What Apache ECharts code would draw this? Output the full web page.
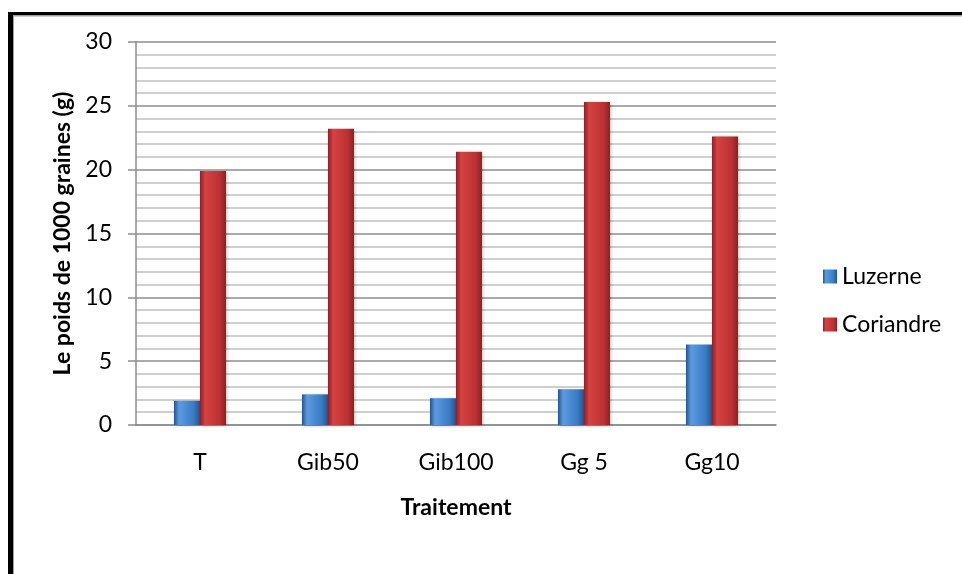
<!DOCTYPE html>
<html>
<head>
<meta charset="utf-8">
<script src="https://cdn.jsdelivr.net/npm/echarts@6/dist/echarts.min.js"></script>
<style>
  html, body { margin: 0; padding: 0; background: #fff; }
  #chart { width: 962px; height: 574px; }
</style>
</head>
<body>
<div id="chart"></div>
<script>
// Weight of 1000 seeds (g) per treatment
const categories = ['T', 'Gib50', 'Gib100', 'Gg 5', 'Gg10'];
const luzerne = [1.9, 2.4, 2.1, 2.8, 6.3];
const coriandre = [19.9, 23.2, 21.4, 25.3, 22.6];
const seriesNames = ['Luzerne', 'Coriandre'];

const FONT = 'Lato, "Open Sans", sans-serif';
const FS = 23;

function barGradient(dark, light, mid) {
  return new echarts.graphic.LinearGradient(0, 0, 1, 0, [
    { offset: 0, color: dark },
    { offset: 0.2, color: light },
    { offset: 0.75, color: mid },
    { offset: 1, color: dark }
  ]);
}

const chart = echarts.init(document.getElementById('chart'), null, { renderer: 'canvas' });

chart.setOption({
  backgroundColor: '#ffffff',
  animation: false,
  textStyle: { fontFamily: FONT },
  grid: { left: 136, right: 186, top: 42, bottom: 149 },
  legend: {
    orient: 'vertical',
    left: 818,
    top: 260,
    itemWidth: 14,
    itemHeight: 14,
    itemGap: 25,
    icon: 'rect',
    textStyle: { fontSize: FS, color: '#000', fontFamily: FONT },
    data: seriesNames
  },
  xAxis: {
    type: 'category',
    data: categories,
    axisLine: { lineStyle: { color: '#8c8c8c', width: 1.5 } },
    axisTick: { show: false },
    axisLabel: { fontSize: FS, color: '#000', margin: 26, fontFamily: FONT },
    name: 'Traitement',
    nameLocation: 'middle',
    nameGap: 71,
    nameTextStyle: { fontSize: FS, fontWeight: 'bold', color: '#000', fontFamily: FONT }
  },
  yAxis: {
    type: 'value',
    min: 0,
    max: 30,
    interval: 5,
    axisLine: { show: true, lineStyle: { color: '#8c8c8c', width: 1.5 } },
    axisTick: { show: true, inside: false, length: 8, lineStyle: { color: '#8c8c8c', width: 1.5 } },
    axisLabel: { fontSize: FS, color: '#000', margin: 24, fontFamily: FONT },
    splitLine: { show: true, lineStyle: { color: '#8c8c8c', width: 1.5 } },
    minorTick: { show: false, splitNumber: 5 },
    minorSplitLine: { show: true, lineStyle: { color: '#c0c0c0', width: 1.5 } },
    name: 'Le poids de 1000 graines (g)',
    nameLocation: 'middle',
    nameGap: 62,
    nameTextStyle: { fontSize: FS, fontWeight: 'bold', color: '#000', fontFamily: FONT }
  },
  series: [
    {
      name: seriesNames[0],
      type: 'bar',
      data: luzerne,
      barWidth: 26,
      barGap: '0%',
      itemStyle: {
        color: barGradient('#24558f', '#5a9be0', '#3a7bc6'),
        shadowColor: 'rgba(0,0,0,0.25)',
        shadowBlur: 3,
        shadowOffsetX: 1,
        shadowOffsetY: 1
      }
    },
    {
      name: seriesNames[1],
      type: 'bar',
      data: coriandre,
      barWidth: 26,
      barGap: '0%',
      itemStyle: {
        color: barGradient('#8f2020', '#d64242', '#bb3232'),
        shadowColor: 'rgba(0,0,0,0.25)',
        shadowBlur: 3,
        shadowOffsetX: 1,
        shadowOffsetY: 1
      }
    }
  ],
  graphic: [
    { type: 'rect', shape: { x: 8, y: 15, width: 954, height: 1.5 }, style: { fill: '#a0a0a0' }, silent: true },
    { type: 'rect', shape: { x: 8, y: 12, width: 954, height: 3 }, style: { fill: '#000' }, silent: true },
    { type: 'rect', shape: { x: 8, y: 12, width: 5, height: 562 }, style: { fill: '#000' }, silent: true },
    { type: 'rect', shape: { x: 13, y: 15, width: 1, height: 559 }, style: { fill: '#a0a0a0' }, silent: true }
  ]
});
</script>
</body>
</html>
